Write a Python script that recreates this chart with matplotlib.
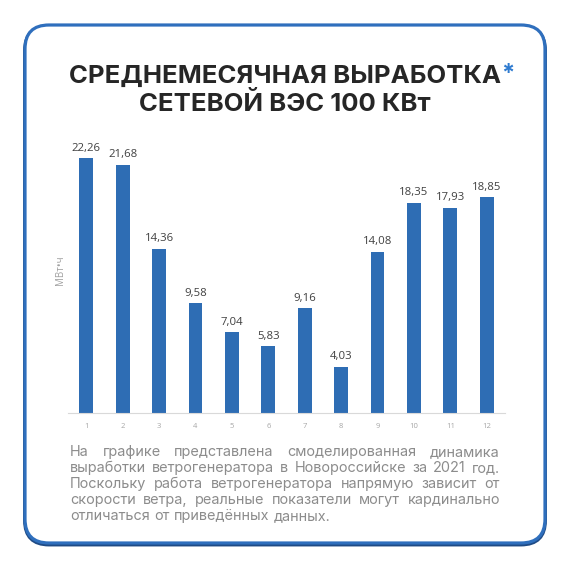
import numpy as np
import matplotlib.pyplot as plt
from matplotlib.patches import FancyBboxPatch

months = ['1', '2', '3', '4', '5', '6', '7', '8', '9', '10', '11', '12']
output_mwh = [22.26, 21.68, 14.36, 9.58, 7.04, 5.83, 9.16, 4.03, 14.08, 18.35, 17.93, 18.85]
value_labels = ['22,26', '21,68', '14,36', '9,58', '7,04', '5,83', '9,16', '4,03',
                '14,08', '18,35', '17,93', '18,85']
title_lines = ['СРЕДНЕМЕСЯЧНАЯ ВЫРАБОТКА', 'СЕТЕВОЙ ВЭС 100 КВт']
ylabel = 'МВт•ч'
note_lines = [
    'На графике представлена смоделированная динамика',
    'выработки ветрогенератора в Новороссийске за 2021 год.',
    'Поскольку работа ветрогенератора напрямую зависит от',
    'скорости ветра, реальные показатели могут кардинально',
    'отличаться от приведённых данных.',
]

W = H = 570
fig = plt.figure(figsize=(5.7, 5.7), dpi=100)
fig.patch.set_facecolor('white')

# rounded frame, darker shadow under the blue line
bg = fig.add_axes([0, 0, 1, 1])
bg.set_xlim(0, W)
bg.set_ylim(H, 0)
bg.axis('off')
shadow = FancyBboxPatch((25, 26.5), 520, 518, boxstyle='round,pad=0,rounding_size=24',
                        facecolor='none', edgecolor='#1f4b85', linewidth=2.8)
frame = FancyBboxPatch((25, 25), 520, 518, boxstyle='round,pad=0,rounding_size=24',
                       facecolor='white', edgecolor='#2f6fbd', linewidth=2.3)
bg.add_patch(shadow)
bg.add_patch(frame)

# title
bg.text(285, 76, title_lines[0], ha='center', va='center', fontsize=18.5,
        fontweight='bold', family='Inter', color='#262626')
bg.text(285, 104, title_lines[1], ha='center', va='center', fontsize=18.5,
        fontweight='bold', family='Inter', color='#262626')
bg.text(501, 74, '*', ha='left', va='center', fontsize=17, fontweight='bold',
        family='Inter', color='#2f7bd0')

# bar chart
x0, x1 = 68, 505
ybase, ytop = 413, 127
ax = fig.add_axes([x0 / W, 1 - ybase / H, (x1 - x0) / W, (ybase - ytop) / H])
pos = np.arange(1, len(months) + 1)
ax.bar(pos, output_mwh, width=0.38, color='#2e6db4')
for p, v, lab in zip(pos, output_mwh, value_labels):
    ax.text(p, v + 0.4, lab, ha='center', va='bottom', fontsize=8.2,
            family='Open Sans', color='#404040')
ax.set_xlim(0.5, 12.5)
ax.set_ylim(0, 25)
ax.set_xticks(pos)
ax.set_xticklabels(months, fontsize=5.5, color='#a6a6a6', family='Open Sans')
ax.tick_params(axis='x', length=0, pad=7)
ax.set_yticks([])
for s in ['top', 'right', 'left']:
    ax.spines[s].set_visible(False)
ax.spines['bottom'].set_color('#d9d9d9')
ax.spines['bottom'].set_linewidth(0.8)
ax.set_facecolor('none')
bg.text(60, 270, ylabel, rotation=90, ha='center', va='center', fontsize=7,
        family=['Open Sans', 'DejaVu Sans'], color='#a0a0a0')

# justified note text
fig.canvas.draw()
renderer = fig.canvas.get_renderer()
left, right = 70, 500
line_y = [452, 468, 484, 500, 516]
note_size = 10.4
for i, (line, y) in enumerate(zip(note_lines, line_y)):
    words = line.split(' ')
    texts = [bg.text(0, y, w, ha='left', va='center', fontsize=note_size,
                     family='Inter', color='#8c8c8c') for w in words]
    widths = [t.get_window_extent(renderer).width for t in texts]
    if i < len(note_lines) - 1 and len(words) > 1:
        gap = (right - left - sum(widths)) / (len(words) - 1)
    else:
        gap = 4.5
    x = left
    for t, w in zip(texts, widths):
        t.set_x(x)
        x += w + gap

fig.savefig('out.png', dpi=100, facecolor='white')
